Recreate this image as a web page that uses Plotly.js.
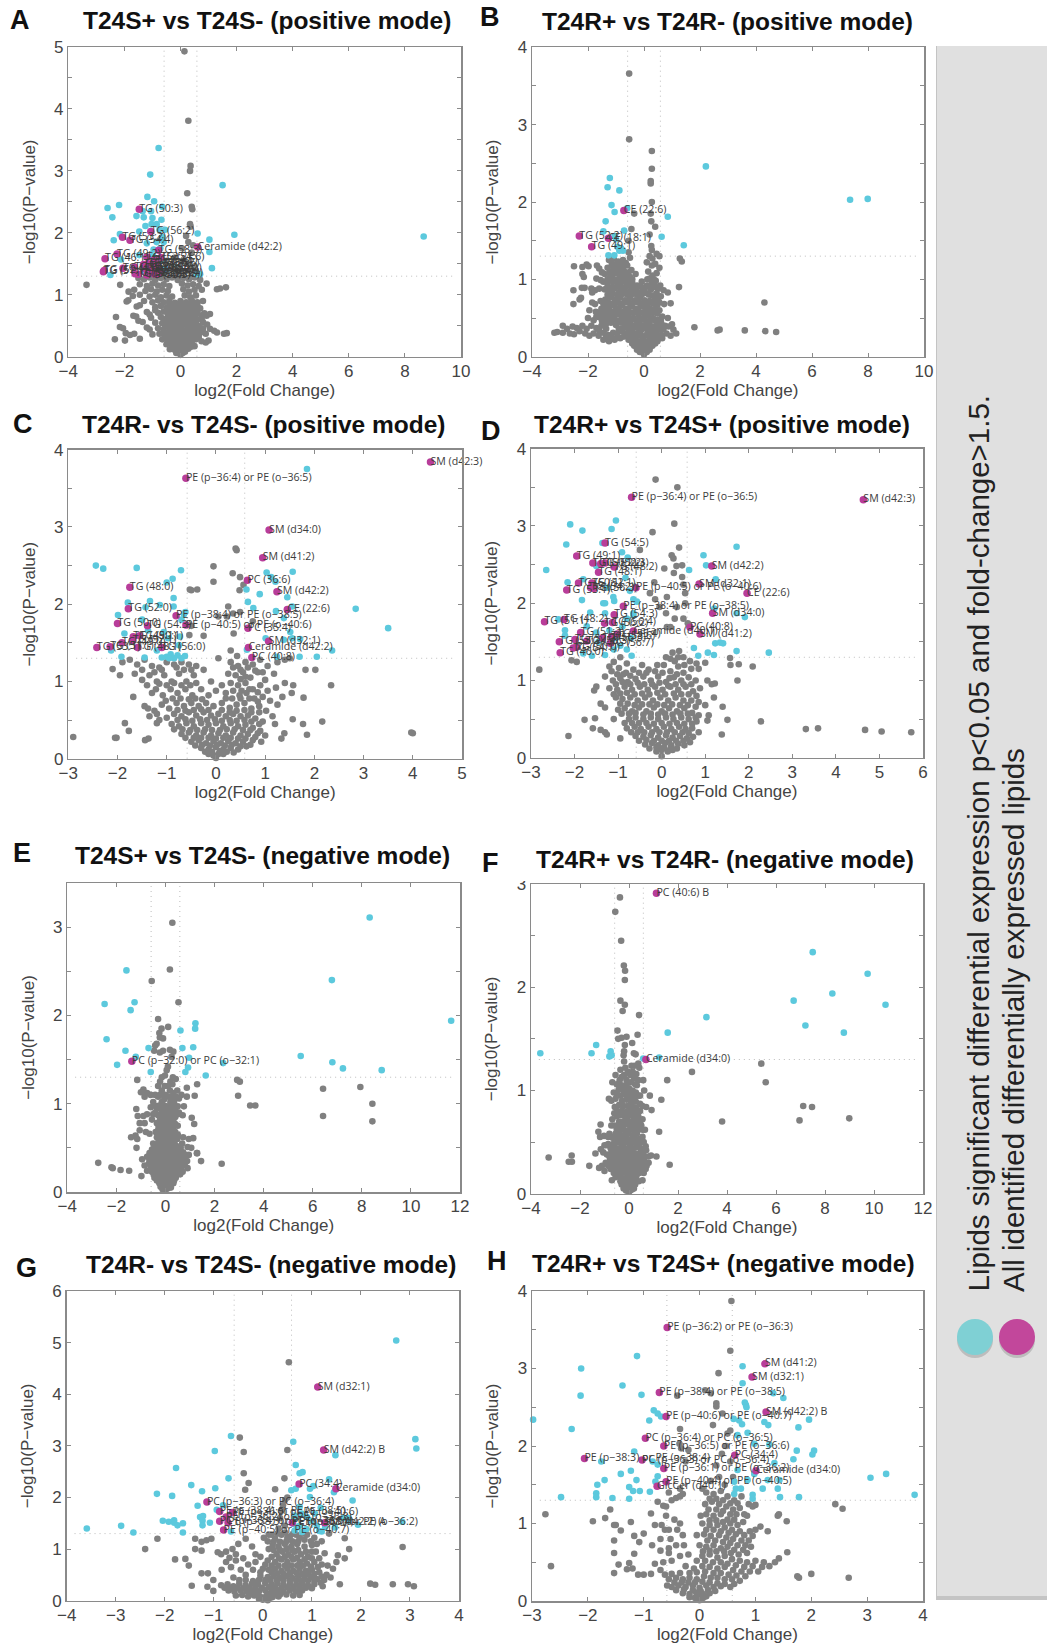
<!DOCTYPE html>
<html><head><meta charset="utf-8"><script src="https://cdn.plot.ly/plotly-3.0.1.min.js"></script>
<style>html,body{margin:0;padding:0;background:#fff}</style></head><body><div id="chart" style="width:1047px;height:1647px"></div>
<script>
const titles=["T24S+ vs T24S- (positive mode)","T24R+ vs T24R- (positive mode)","T24R- vs T24S- (positive mode)","T24R+ vs T24S+ (positive mode)","T24S+ vs T24S- (negative mode)","T24R+ vs T24R- (negative mode)","T24R- vs T24S- (negative mode)","T24R+ vs T24S+ (negative mode)"];
const letters=["A","B","C","D","E","F","G","H"];
const xTitle="log2(Fold Change)", yTitle="−log10(P−value)";
const note1="Lipids significant differential expression p<0.05 and fold-change>1.5.";
const note2="All identified differentially expressed lipids";

const grayA=[[.14,4.93],[.28,3.81],[.36,3.08],[.34,3],[.24,2.64],[.4,2.42],[.42,2.38],[.34,2.14],[.36,2.1],[.45,1.8],[.2,1.95],[.28,1.85],[.05,1.75],[.4,1.68],[-.5,1.55],[-.2,1.6],[.1,1.55],[.3,1.5],[.5,1.45],[-.35,1.42],[-.1,1.4],[.2,1.38],[-.6,1.35],[.4,1.33],[0,1.32],
[-3.35,1.16],[-1.5,1.27],[-1.3,1.25],[-1.1,1.28],[-.9,1.24],[-.7,1.27],[-.5,1.25],[-.3,1.28],[-.1,1.24],[.1,1.27],[.3,1.25],[.5,1.28],[.7,1.24],
[-2.15,1.16],[-1.45,1.17],[-1.2,1.14],[-1,1.18],[-.8,1.15],[-.6,1.17],[-.4,1.14],[.05,1.18],[.25,1.15],[.45,1.17],[.65,1.14],[.93,1.18],[1.41,1.1],[1.3,1.09],[1.62,1.12],
[-1.85,1.05],[-1.65,1.08],[-1.25,1.06],[-1.05,1.09],[-.85,1.05],[-.65,1.08],[-.45,1.06],[.1,1.09],[.3,1.05],[.5,1.08],[.76,1.08],
[-1.7,.98],[-1.45,1],[-1.1,.97],[-.9,1],[-.7,.96],[-.5,.99],[-.3,.97],[.15,.99],[.35,.96],[.55,.99],
[-1.92,.89],[-1.86,.91],[-1.3,.9],[-1,.88],[-.8,.91],[-.6,.88],[-.4,.9],[-.2,.87],[0,.9],[.2,.88],[.4,.91],[.6,.88],[.8,.9],
[-1.56,.81],[-1.45,.83],[-.9,.8],[-.7,.82],[-.5,.79],[-.3,.81],[-.1,.78],[.1,.82],[.3,.79],[.5,.81],[.7,.78],
[-1.2,.72],[-.8,.71],[-.6,.73],[-.4,.7],[-.2,.72],[0,.69],[.2,.73],[.4,.7],[.6,.72],[.85,.7],
[-2.3,.64],[-1.68,.66],[-1.58,.65],[-1.05,.63],[-.7,.64],[-.5,.61],[-.3,.65],[-.1,.62],[.1,.64],[.3,.61],[.5,.65],[.75,.62],[1.05,.69],[.93,.66],
[-1.35,.56],[-1.5,.58],[-.9,.55],[-.65,.54],[-.45,.57],[-.25,.53],[-.05,.56],[.15,.53],[.35,.57],[.55,.54],[.8,.56],[.95,.52],
[-2.16,.48],[-2.05,.46],[-1.2,.47],[-1.1,.44],[-.8,.46],[-.6,.44],[-.4,.47],[-.2,.44],[0,.46],[.2,.43],[.4,.47],[.6,.44],[.8,.46],[1.2,.42],[1.05,.45],
[-1.95,.38],[-1.8,.35],[-1.65,.37],[-1,.36],[-.75,.37],[-.55,.35],[-.35,.38],[-.15,.35],[.05,.37],[.25,.34],[.45,.38],[.65,.35],[.9,.37],[1.3,.39],[1.55,.37],[1.65,.38],
[-2.34,.28],[-1.98,.26],[-1.45,.29],[-.65,.28],[-.45,.26],[-.25,.29],[-.05,.26],[.15,.28],[.35,.25],[.55,.28],[.75,.25],[1,.26],[.9,.23],
[-.5,.2],[-.3,.18],[-.1,.2],[.1,.17],[.3,.2],[.5,.17],[-.38,.12],[-.2,.11],[-.05,.13],[.1,.11],[.28,.13],[-.15,.06],[0,.03],[.08,.06],[.16,.08]];
const fillA=[[-.55,.5],[-.35,.5],[-.15,.5],[.05,.5],[.25,.5],[.45,.5],[.65,.5],[-.6,.4],[-.4,.41],[-.2,.4],[0,.41],[.2,.39],[.4,.41],[.6,.4],[.8,.4],[-.55,.32],[-.35,.31],[-.15,.32],[.05,.31],[.25,.31],[.45,.32],[.65,.31],[-.4,.24],[-.2,.24],[0,.23],[.2,.24],[.4,.23],[-.2,.15],[0,.16],[.2,.16],[.38,.16],[-.6,.6],[-.4,.6],[-.2,.59],[0,.6],[.2,.59],[.4,.59],[.6,.6],[-.45,.68],[-.25,.68],[-.05,.67],[.15,.68],[.35,.67],[.55,.68],[.75,.67],[-.4,.76],[-.2,.76],[0,.76],[.2,.77],[.4,.76],[.6,.76],[-.9,.75],[-1.1,.68],[-.4,.85],[-.2,.84],[0,.84],[.2,.84],[.4,.85],[.6,.84]];
const cyanA=[[8.67,1.94],[1.92,1.97],[1.5,2.77],[1.03,1.89],[1.03,1.69],[1.12,1.43],[.61,1.99],[-.78,3.37],[-1.08,2.94],[-1.18,2.58],[-.94,2.51],[-.65,2.42],[-2.19,2.45],[-2.6,2.4],[-2.43,2.25],[-1.57,2.27],[-1.31,2.25],[-1,2.24],[-.68,2.21],[-.85,2.14],[-1.03,2.14],[-1.25,2.11],[-2.16,1.98],[-2.38,1.88],[-1.47,2.02],[-.65,1.93],[-1.2,1.83],[-.72,1.75],[-.96,1.73],[-.98,1.63],[-1.47,1.64],[-2.12,1.57],[-2.5,1.32],[.7,1.33],[.58,1.33],[-.75,2.05],[-.85,1.85],[-.7,1.55],[-.9,1.48],[-1,1.38],[-.72,1.42],[-.85,1.33],[-.55,1.4],[-1.15,1.45],[-1.25,1.35],[-.6,1.85],[-1.35,2.35],[-1.05,2.35],[-.55,2.05]];
const magA=[[-1.47,2.38,"TG (50:3)"],[-1.06,2.02,"TG (56:2)"],[-2.07,1.93,"TG (53:2)"],[-1.8,1.88,"TG (54:4)"],[-2.26,1.66,"TG (49:2)"],[-2.69,1.58,"TG (46:1)"],[-.78,1.72,"TG (58:3)"],[.61,1.77,"Ceramide (d42:2)"],[-2.75,1.37,"TG (51:1)"],[-2.72,1.39,"TG (52:1)"],[-2.05,1.43,"TG (48:1)"],[-1.64,1.45,"TG (50:1)"],[-1.2,1.61,"TG (52:2)"],[-1.32,1.49,"TG (54:3)"],[-1.62,1.34,"TG (52:3)"],[-1.5,1.33,"TG (50:2)"],[-1.2,1.32,"TG (55:3)"],[-.95,1.34,"TG (54:2)"],[-1.15,1.5,"TG (56:3)"],[-1.25,1.42,"TG (48:0)"],[-1.05,1.37,"TG (52:4)"],[-.88,1.5,"TG (56:5)"],[-.95,1.56,"TG (54:5)"],[-.8,1.42,"TG (55:2)"],[-1.1,1.46,"TG (53:3)"],[-.75,1.35,"TG (58:4)"],[-.85,1.33,"TG (52:5)"],[-.9,1.4,"TG (56:6)"],[-.7,1.6,"TG (54:6)"]];

const grayB=[[-.53,3.66],[-.53,2.81],[.28,2.66],[.28,2.43],[.24,2.27],[.24,2.24],[.28,2],[.24,1.85],[-.35,1.85],[.26,1.75],[.4,1.68],[-.45,1.65],[.2,1.58],[-.55,1.5],[.26,1.43],[.28,1.38],[1.28,1.27],[1.35,1.23],[1.25,.9],[4.3,.7],[1.8,.38],[2.63,.34],[2.7,.35],[3.6,.34],[4.33,.33],[4.72,.32],
[-.55,1.35],[-.5,1.28],[.2,1.3],[.3,1.27],[.55,1.3],[.45,1.33],[.1,1.22],[.28,1.18],[.4,1.2],[.55,1.15],[.15,1.1],[.3,1.05],[.45,1.08],[.12,1],[.28,.96],[.42,.98],
[-1.25,1.25],[-1.08,1.27],[-.92,1.23],[-.75,1.25],[-1.3,1.15],[-1.12,1.17],[-.95,1.13],[-.78,1.16],[-.6,1.18],[-.45,1.12],[-1.4,1.07],[-1.2,1.05],[-1.03,1.08],[-.85,1.05],[-.68,1.07],[-.5,1.03],[-.3,1.07],
[-2.5,1.17],[-2.2,1.16],[-2.05,1.19],[-1.98,1.17],[-2.2,1.07],[-2.15,1.03],[-1.68,1.18],[-1.6,1.14],[-1.5,1.09],[-1.7,1.01],[-1.55,.99],[-2.52,.86],[-2.22,.89],[-2.12,.89],[-1.88,.88],[-1.75,.86],[-1.6,.88],[-1.85,.83],[-1.45,.97],[-1.3,.95],[-1.12,.98],[-.95,.95],[-.78,.97],[-.6,.94],[-.42,.96],[-.25,.92],[-.08,.97],[.1,.92],[.25,.87],[.42,.9],[.58,.92],[.7,.86],[.85,.83],
[-1.4,.87],[-1.22,.85],[-1.05,.88],[-.88,.84],[-.7,.87],[-.52,.84],[-.35,.86],[-.18,.83],[0,.86],[.1,.82],[.3,.79],[.45,.82],[.6,.78],
[-2.3,.74],[-2.52,.68],[-2.25,.76],[-1.85,.7],[-1.75,.68],[-1.55,.72],[-1.38,.74],[-1.2,.77],[-1.03,.74],[-.85,.77],[-.68,.73],[-.5,.76],[-.32,.73],[-.15,.76],[.02,.73],[.2,.72],[.38,.73],[.55,.7],[.72,.68],[.95,.69],
[-1.95,.6],[-1.72,.58],[-1.52,.62],[-1.35,.64],[-1.18,.66],[-1,.63],[-.82,.66],[-.65,.62],[-.48,.65],[-.3,.62],[-.12,.65],[.05,.62],[.22,.62],[.4,.62],[.55,.6],[.65,.52],[.85,.5],
[-2,.5],[-1.8,.47],[-1.6,.51],[-1.42,.53],[-1.25,.55],[-1.08,.52],[-.9,.55],[-.72,.52],[-.55,.54],[-.38,.5],[-.2,.54],[-.03,.5],[.15,.53],[.32,.5],[.5,.48],[1,.42],[.75,.4],[.62,.43],
[-2.9,.4],[-2.75,.36],[-2.55,.39],[-2.4,.37],[-2.2,.4],[-2.05,.36],[-1.88,.4],[-1.7,.37],[-1.52,.4],[-1.35,.43],[-1.18,.44],[-1,.41],[-.82,.44],[-.65,.41],[-.48,.43],[-.32,.4],[-.15,.43],[.02,.4],[.2,.42],[.35,.39],[.52,.41],[.7,.36],[.88,.39],[1.05,.35],[1.15,.3],
[-3.2,.31],[-3.1,.32],[-2.9,.31],[-2.65,.3],[-2.5,.29],[-2.1,.3],[-1.95,.27],[-1.8,.3],[-1.62,.27],[-1.45,.31],[-1.28,.28],[-1.1,.31],[-.95,.3],[-.8,.33],[-.62,.3],[-.45,.32],[-.28,.3],[-.12,.33],[.12,.3],[.28,.3],[.45,.31],[.62,.28],[.8,.3],[.95,.27],
[-1.45,.22],[-1.25,.2],[-1.05,.22],[-.85,.24],[-.55,.22],[-.38,.23],[-.2,.2],[-.05,.23],[.12,.2],[.3,.22],[.48,.2],[.65,.24],[-.35,.14],[-.18,.12],[0,.14],[.15,.12],[.3,.14],[-.15,.06],[0,.03],[.1,.06]];
const fillB=[[-1.15,1.2],[-.98,1.2],[-.82,1.19],[-.65,1.21],[-1.22,1.1],[-1.05,1.11],[-.88,1.1],[-.72,1.11],[-.55,1.09],[-1.3,1],[-1.12,1.01],[-.95,1],[-.78,1.01],[-.6,1],[-.42,1],[.2,1.01],[.35,1],[-1.3,.91],[-1.13,.9],[-.96,.91],[-.8,.9],[-.62,.91],[-.45,.9],[-.28,.88],[-.1,.9],[.18,.9],[.35,.91],[.5,.88],[-1.3,.8],[-1.12,.81],[-.95,.8],[-.78,.81],[-.6,.8],[-.42,.81],[-.25,.8],[-.08,.8],[.18,.8],[.38,.79],[.52,.77],[-1.45,.68],[-1.28,.7],[-1.1,.69],[-.92,.7],[-.75,.69],[-.58,.7],[-.4,.69],[-.22,.7],[-.05,.69],[.12,.68],[.3,.69],[.47,.67],[-1.6,.57],[-1.42,.59],[-1.25,.6],[-1.08,.58],[-.9,.6],[-.72,.58],[-.55,.59],[-.38,.57],[-.2,.59],[-.03,.57],[.14,.58],[.3,.57],[.48,.56],[-1.7,.52],[-1.5,.46],[-1.32,.48],[-1.15,.49],[-.98,.47],[-.8,.49],[-.62,.47],[-.45,.48],[-.28,.47],[-.1,.48],[.07,.46],[.23,.47],[.42,.46],[.6,.47],[-.9,.36],[-.72,.37],[-.55,.36],[-.38,.37],[-.22,.37],[-.05,.36],[.1,.36],[.28,.36],[.45,.36],[.6,.35],[-1.35,.36],[-1.6,.34],[-2.3,.33],[-1.35,.26],[-1.15,.25],[-.95,.25],[-.72,.26],[-.5,.27],[-.3,.26],[-.12,.27],[.05,.27],[.22,.26],[.4,.26],[.55,.25],[-.42,.17],[-.25,.16],[-.1,.17],[.05,.17],[.22,.17],[.4,.17],[-.25,.09],[-.08,.09],[.08,.09],[.2,.09]];
const cyanB=[[2.21,2.46],[7.36,2.03],[7.99,2.04],[-1.22,2.31],[-1.3,2.19],[-.88,2.15],[-1.16,1.96],[-1.05,1.87],[-.6,1.92],[.85,1.81],[-1.37,1.75],[-.71,1.63],[-1.45,1.62],[.63,1.55],[1.42,1.44],[-1.27,1.31],[-1.06,1.31],[-.95,1.42],[-.82,1.4],[-.75,1.37],[-.88,1.37],[-1,1.52],[-1.05,1.56]];
const magB=[[-.72,1.89,"CE (22:6)"],[-2.31,1.56,"TG (52:2)"],[-1.27,1.53,"CE (18:1)"],[-1.87,1.42,"TG (49:1)"]];

const grayC=[[.4,2.72],[.42,2.7],[-.05,2.49],[-.05,2.29],[.34,2.4],[.49,2.35],[.56,2.25],[.48,2.18],[-.53,2.19],[-.5,2.18],[-.38,2.19],[.25,1.97],[.49,1.9],[.35,1.88],[.05,1.84],[.22,1.84],[-.54,1.6],[-.25,1.59],[.36,1.62],[.3,1.4],[.43,1.33],[.05,1.3],[.75,1.78],[-.5,1.72],
[1.82,1.15],[2.02,1.15],[2.34,.95],[-2.1,1.16],[-1.95,1.08],[-1.68,.8],[1.78,.79],[1.57,.95],[1.54,.85],[1.4,.98],[1.22,.92],[1.35,.8],[1.18,1.1],[1.25,1.25],[1.4,1.28],[1.5,1.3],
[1.56,.51],[1.77,.45],[2.16,.48],[1.85,.31],[3.97,.34],[4,.33],[-2.9,.28],[-2.05,.27],[-2.02,.27],[-1.85,.46],[-1.77,.36],[-1.44,.24],[-1.37,.26],[-1.2,.46],[-1.2,.58],[1.2,.45],[1.39,.33],[1.33,.26],[1.15,.55],[1.25,.7],[1.1,.75],
[-1.9,1.25],[-1.75,1.28],[-1.6,1.22],[-1.45,1.28],[-1.3,1.2],[-1.15,1.18],[-1,1.25],[-.85,1.22],[-.7,1.25],[-.55,1.22],[-.4,1.2],[-1.65,1.1],[-1.5,1.02],[-1.35,1.08],[-1.2,1],[-1.05,1.08],[-.9,1],[-.75,1.1],[-.6,1],[-.45,1.08],[-.25,1.15],[-.1,1],
[.3,1.25],[.45,1.2],[.6,1.25],[.75,1.22],[.9,1.28],[1.05,1.2],[.25,1.1],[.4,1.08],[.55,1.12],[.7,1.05],[.85,1.12],[1,1.02],[.3,.98],[.45,.95],[.6,.98],[.75,.9],[.9,.95],[1.05,.88],
[-1.4,.95],[-1.22,.9],[-1.08,.82],[-.92,.9],[-.78,.85],[-.62,.9],[-.48,.82],[-.3,.9],[-.15,.82],[0,.88],[.2,.85],[.33,.78],[.48,.82],[.62,.85],[.78,.78],[.95,.8],
[-1.45,.68],[-1.38,.65],[-1.25,.62],[-1.1,.7],[-.95,.65],[-.8,.72],[-.65,.68],[-.5,.72],[-.35,.68],[-.2,.72],[-.05,.68],[.12,.72],[.28,.66],[.42,.7],[.58,.72],[.72,.65],[.88,.68],[1.02,.62],
[-1.35,.55],[-1.15,.5],[-1,.53],[-.85,.58],[-.7,.55],[-.55,.6],[-.4,.56],[-.25,.6],[-.1,.56],[.05,.58],[.2,.55],[.35,.58],[.5,.55],[.65,.56],[.8,.52],[.95,.48],
[-.9,.45],[-.75,.42],[-.6,.46],[-.45,.42],[-.3,.46],[-.15,.44],[0,.46],[.15,.42],[.3,.46],[.45,.42],[.6,.44],[.75,.4],[.9,.36],[1,.3],
[-.7,.32],[-.55,.34],[-.4,.3],[-.25,.34],[-.1,.3],[.05,.33],[.2,.3],[.35,.34],[.5,.3],[.65,.32],[.8,.28],[.92,.22],
[-.5,.22],[-.35,.24],[-.2,.2],[-.05,.23],[.1,.2],[.25,.23],[.4,.2],[.55,.22],[.7,.18],[-.3,.14],[-.15,.12],[0,.15],[.15,.12],[.3,.14],[.45,.12],[-.15,.06],[-.05,.04],[.05,.06],[.15,.06],[0,.01]];
const fillC=[[-.85,.38],[-.68,.38],[-.52,.37],[-.38,.37],[-.22,.38],[-.08,.37],[.08,.37],[.22,.38],[.38,.38],[.55,.37],[.7,.37],[.85,.33],[-.78,.5],[-.62,.51],[-.48,.49],[-.32,.51],[-.18,.5],[-.02,.51],[.12,.49],[.28,.5],[.42,.49],[.58,.5],[.72,.48],[.88,.45],[-.62,.27],[-.45,.27],[-.3,.27],[-.15,.27],[0,.26],[.15,.27],[.3,.27],[.45,.26],[.6,.26],[.75,.24],[-.42,.17],[-.28,.18],[-.12,.17],[.02,.18],[.18,.17],[.32,.18],[.5,.16],[.62,.16],[-.22,.09],[-.08,.09],[.08,.1],[.22,.09],[.36,.08],[-.78,.63],[-.62,.62],[-.45,.63],[-.3,.64],[-.15,.63],[.12,.63],[.28,.6],[.42,.62],[.58,.63],[.72,.6],[.88,.6],[-1.02,.75],[-.88,.78],[-.72,.78],[-.55,.77],[-.42,.78],[-.28,.77],[.2,.78],[.5,.78],[.68,.78],[.85,.74],[-.85,.98],[-.7,.95],[-.52,.95],[-.4,.98],[.35,.88],[.52,.88],[.68,.9],[.85,.86],[-1.15,.97],[-1,.95],[-1.3,.85],[.12,.95],[-.8,1.18],[-.65,1.15],[-.5,1.15],[.35,1.18],[.5,1.15],[.65,1.18],[.8,1.14],[-1.5,1.15],[-1.25,1.12],[-1.1,1.15],[.95,1.12],[.6,1.06],[.5,1.03]];
const cyanC=[[1.85,3.75],[-2.44,2.5],[-2.29,2.46],[-1.61,2.47],[-.71,2.44],[-.88,2.33],[-1,2.28],[1.03,2.41],[1.56,2.42],[1.12,2.35],[1.21,2.29],[.62,2.19],[.89,2.13],[1.45,2.09],[2.84,1.94],[3.5,1.69],[-1.79,2.02],[-1.34,2.04],[-.86,2.08],[-1.14,1.99],[-1.43,1.96],[-.86,1.97],[.65,2.03],[.76,1.95],[1.22,1.91],[1.55,1.97],[-1.99,1.86],[-1.5,1.8],[-1.86,1.62],[-1.38,1.66],[-1.06,1.64],[-.73,1.58],[-.97,1.56],[1.01,1.56],[1.51,1.64],[1.38,1.82],[1.38,1.54],[1.71,1.55],[1.55,1.56],[2.36,1.4],[2.05,1.32],[1.7,1.32],[1.24,1.32],[.63,1.41],[-2.13,1.4],[-1.92,1.32],[-1.45,1.31],[-1,1.32],[-.92,1.35],[-.85,1.3],[-.78,1.34],[-.7,1.3],[-.63,1.33],[-.95,1.3],[-1.2,1.4],[-1.1,1.31],[-.75,1.47],[-.7,1.8],[-.65,1.87],[-.62,1.9]];
const magC=[[4.36,3.84,"SM (d42:3)"],[-.61,3.63,"PE (p−36:4) or PE (o−36:5)"],[1.08,2.96,"SM (d34:0)"],[.95,2.6,"SM (d41:2)"],[.64,2.31,"PC (36:6)"],[1.24,2.16,"SM (d42:2)"],[-1.75,2.22,"TG (48:0)"],[-1.78,1.94,"TG (52:0)"],[1.45,1.93,"CE (22:6)"],[-.81,1.85,"PE (p−38:4) or PE (o−38:5)"],[-2,1.75,"TG (50:0)"],[-1.39,1.72,"TG (54:3)"],[-.61,1.73,"PE (p−40:5) or PE (o−40:6)"],[.65,1.69,"PC (35:4)"],[1.07,1.52,"SM (d32:1)"],[.66,1.44,"Ceramide (d42:2)"],[.73,1.31,"PC (40:8)"],[-2.42,1.44,"TG (53:1)"],[-2.15,1.45,"TG (51:1)"],[-1.91,1.5,"TG (49:0)"],[-1.68,1.58,"TG (49:1)"],[-1.69,1.53,"TG (52:1)"],[-1.55,1.59,"TG (50:1)"],[-1.59,1.44,"TG (48:1)"],[-1.1,1.44,"TG (56:0)"]];

const grayD=[[-.14,3.6],[.36,3.5],[.29,3.03],[-.21,2.92],[.4,2.72],[-.5,2.69],[.23,2.62],[.27,2.58],[.06,2.45],[.34,2.48],[.47,2.49],[.28,2.39],[.47,2.34],[-.17,2.27],[.5,2.24],[-.27,2.13],[.12,2.08],[.54,2.13],[.54,2],[.3,1.8],[.5,1.8],[.12,1.69],[.2,1.69],[-.05,1.95],[-.15,2.05],[.1,1.87],[.35,1.95],[.6,1.74],
[-2.81,1.14],[-2.07,1.26],[-1.95,1.24],[1.57,1.29],[1.58,1.2],[1.77,1.21],[2.09,1.18],[1.74,1],[3.31,.37],[3.59,.38],[4.67,.36],[5.05,.34],[5.73,.33],[2.28,.47],[-2.14,.28],[-1.77,.49],[-1.53,.51],[1.38,.3],[1.51,.49],[-1.4,.36],[-1.3,.33],[-1.26,.3],[-1.58,.38],[1.2,.78],[1.4,.66],[1.05,1],[1.15,.95],[1.22,.96],[.8,1.22],[1,1.23],[.85,1.15],[.78,1],
[-1.1,1.24],[-.95,1.3],[-.8,1.22],[-1.15,1.12],[-.98,1.16],[-.82,1.1],[-.65,1.14],[-.45,1.2],[-.3,1.14],[-.1,1.2],[.1,1.3],[.25,1.36],[.3,1.25],[.4,1.38],[.5,1.3],[.05,1.2],[.2,1.12],[.38,1.18],[.52,1.2],[.68,1.15],
[-1.3,1.05],[-1.12,1],[-.95,1.03],[-.78,.98],[-.6,1.02],[-.42,1.05],[-.25,1],[-.08,1.05],[.1,.98],[.28,1.04],[.45,1],[.62,1.04],[-1.2,.9],[-1.02,.88],[-.85,.92],[-.68,.88],[-.5,.92],[-.32,.88],[-.15,.92],[.02,.88],[.2,.92],[.38,.88],[.55,.92],[.72,.86],[.88,.9],
[-1.5,.92],[-1.55,.87],[-1.4,.7],[-1.3,.65],[-1.05,.78],[-.9,.76],[-.72,.78],[-.55,.74],[-.38,.78],[-.2,.74],[-.03,.78],[.15,.74],[.32,.78],[.5,.74],[.68,.74],[.85,.72],[1,.68],
[-1,.62],[-.85,.64],[-.68,.6],[-.52,.65],[-.35,.6],[-.18,.65],[0,.6],[.17,.64],[.35,.6],[.52,.64],[.7,.58],[.85,.55],[1.08,.55],
[-1.1,.5],[-.75,.5],[-.6,.52],[-.42,.5],[-.25,.52],[-.08,.5],[.1,.52],[.27,.5],[.45,.52],[.62,.5],[.8,.47],[1.05,.48],
[-.8,.38],[-.62,.4],[-.48,.37],[-.3,.4],[-.12,.37],[.05,.4],[.22,.37],[.4,.4],[.55,.37],[.7,.38],[.85,.33],
[-.95,.25],[-.6,.28],[-.42,.27],[-.25,.29],[-.08,.26],[.1,.29],[.25,.26],[.42,.28],[.58,.25],[.72,.27],[-.38,.17],[-.22,.19],[-.08,.16],[.08,.19],[.22,.16],[.38,.18],[.52,.16],[-.12,.08],[0,.1],[.14,.08],[.25,.1],[0,.02]];
const fillD=[[-.7,.33],[-.55,.33],[-.4,.33],[-.22,.33],[-.05,.33],[.12,.33],[.3,.33],[.48,.33],[.62,.32],[-.52,.22],[-.35,.23],[-.18,.22],[0,.22],[.17,.22],[.33,.22],[.5,.22],[.65,.2],[-.28,.12],[-.12,.13],[.05,.13],[.2,.12],[.35,.12],[-.85,.45],[-.68,.45],[-.52,.45],[-.35,.45],[-.18,.44],[0,.45],[.18,.44],[.35,.45],[.52,.44],[.7,.44],[-.92,.57],[-.75,.57],[-.6,.58],[-.42,.56],[-.25,.57],[-.08,.56],[.08,.57],[.25,.56],[.43,.57],[.6,.57],[.78,.52],[-.95,.7],[-.78,.7],[-.62,.68],[-.45,.69],[-.28,.69],[-.1,.69],[.06,.68],[.24,.69],[.42,.68],[.6,.68],[.78,.66],[-1.1,.82],[-.95,.83],[-.8,.84],[-.62,.82],[-.45,.83],[-.28,.82],[-.1,.84],[.08,.82],[.28,.83],[.45,.82],[.62,.82],[.8,.8],[-1.05,.95],[-.9,.98],[-.72,.95],[-.55,.97],[-.4,.95],[-.22,.95],[-.05,.97],[.15,.93],[.32,.95],[.5,.95],[.68,.95],[-1.2,1.18],[-1.02,1.08],[-.88,1.08],[-.72,1.06],[-.52,1.1],[-.35,1.1],[-.15,1.12],[.02,1.1],[.18,1.03],[.35,1.08],[.5,1.1],[.65,1.25],[.2,1.28],[.38,1.3]];
const cyanD=[[-1.05,3.07],[-2.1,3.02],[-1.82,2.94],[-1.15,2.96],[-2.19,2.76],[-1.36,2.78],[-.91,2.66],[-.78,2.59],[-2.65,2.43],[1.72,2.73],[.96,2.62],[1.02,2.49],[.63,2.43],[1.24,2.31],[-2.16,2.27],[-1.8,2.31],[-.83,2.33],[-1.5,2.48],[-1.83,2.04],[-1.34,2],[-1.3,2],[-1.11,2.08],[-1.09,2.03],[-.73,2.16],[-.65,2.05],[-.57,2.02],[-1.64,1.88],[-1.3,1.87],[-.65,1.84],[-2.37,1.79],[-2.22,1.65],[-2.22,1.58],[-1.72,1.7],[1.23,1.48],[1.34,1.49],[1.41,1.48],[1.72,1.38],[2.46,1.36],[.74,1.42],[.84,1.32],[1.06,1.36],[1.2,1.33],[1.91,1.82],[1.72,1.87],[1.21,1.93],[-.69,1.32],[-.8,1.4],[-1.6,1.32],[-1.8,1.35],[-1.3,1.33],[-1.1,1.4],[-.95,1.45],[-.7,1.55],[-.65,1.87],[-1.45,1.5],[-1.2,1.65],[-.9,1.7],[-1.5,1.62],[-1.05,1.55],[-.8,1.8],[-1.25,2.2]];
const magD=[[4.63,3.34,"SM (d42:3)"],[-.69,3.37,"PE (p−36:4) or PE (o−36:5)"],[-1.3,2.78,"TG (54:5)"],[-1.95,2.61,"TG (49:1)"],[-1.58,2.52,"TG (50:2)"],[-1.4,2.51,"TG (51:2)"],[-1.3,2.52,"TG (52:3)"],[-1.09,2.47,"TG (48:2)"],[-1.45,2.4,"TG (48:1)"],[1.15,2.48,"SM (d42:2)"],[.86,2.25,"SM (d32:1)"],[1.96,2.13,"CE (22:6)"],[-1.91,2.26,"TG (50:1)"],[-1.6,2.26,"TG (52:1)"],[-1.63,2.2,"TG (54:2)"],[-1.56,2.19,"TG (56:3)"],[-2.18,2.17,"TG (53:1)"],[-.59,2.2,"PE (p−40:5) or PE (o−40:6)"],[-.88,1.96,"PE (p−38:4) or PE (o−38:5)"],[1.17,1.87,"SM (d34:0)"],[-1.09,1.85,"TG (54:3)"],[-2.24,1.79,"TG (48:2)"],[-2.69,1.76,"TG (51:1)"],[-1.31,1.74,"TG (56:2)"],[-1.13,1.75,"TG (56:4)"],[.65,1.69,"PC (40:8)"],[-.65,1.64,"Ceramide (d40:1)"],[.88,1.6,"SM (d41:2)"],[-1.86,1.62,"TG (51:2)"],[-1.99,1.53,"TG (52:2)"],[-1.72,1.51,"TG (53:3)"],[-1.36,1.55,"TG (55:3)"],[-1.15,1.57,"TG (58:6)"],[-1.02,1.6,"TG (55:4)"],[-1.18,1.48,"TG (56:7)"],[-2.35,1.5,"TG (53:2)"],[-2.03,1.42,"TG (54:1)"],[-1.96,1.43,"TG (50:0)"],[-2.33,1.36,"TG (46:0)"]];

const grayE=[[.28,3.05],[.18,2.52],[-.56,2.39],[.53,2.15],[-.3,1.96],[.11,1.87],[-.16,1.85],[-.25,1.8],[-.23,1.75],[-.1,1.74],[-.36,1.68],[-.42,1.66],[-.46,1.6],[-.23,1.58],[-.1,1.6],[.18,1.61],[.32,1.59],[.25,1.53],[.1,1.42],[.05,1.38],[-.02,1.32],[-.15,1.3],[.3,1.3],[.2,1.25],[.42,1.28],
[2.92,1.27],[3.03,1.25],[2.96,1.09],[3.45,.98],[3.66,.98],[6.42,1.17],[6.42,.86],[7.94,1.19],[8.43,1],[8.43,.8],[1.29,1.22],[1.19,1.09],[-1.15,1.27],[-2.74,.33],[-2.2,.28],[-2.15,.27],[-1.83,.25],[-1.48,.24],[-.98,.18],[2.29,.32],[1.45,.35],[1.29,.44],
[-.9,1.16],[-.75,1.12],[-.6,1.1],[-.3,1.2],[-.15,1.15],[-.03,1.2],[.18,1.15],[.32,1.12],[.48,1.15],[.65,1.1],[.87,1.18],[.87,1.08],[.55,1.06],[-1,1.13],[-.85,1.08],
[-.5,1.02],[-.3,1.08],[-.15,1.02],[0,1.1],[.2,1.02],[.35,1.02],[.5,.97],[-.6,.96],[-.35,.95],[-.15,.93],[.05,.93],[.22,.93],[.4,.93],[.75,.97],[-1.19,.94],[-1.13,.86],[-.9,.86],[-.75,.88],[-.5,.88],[-.3,.87],[-.12,.85],[.05,.83],[.25,.85],[.4,.85],[.7,.87],[1.07,.84],[1.17,.77],[-1.05,.78],[-.85,.78],[-.35,.78],[-.12,.77],[.08,.76],[.25,.77],[.4,.77],
[-1.4,.62],[-1.22,.64],[-1.05,.7],[-.8,.68],[-.65,.66],[-.3,.7],[-.12,.7],[.05,.69],[.22,.7],[.4,.68],[-1.15,.6],[-.35,.62],[-.15,.61],[.02,.61],[.2,.62],[.38,.62],[.72,.62],[.95,.6],[1.13,.61],[.68,.55],[-1.18,.5],[-.5,.55],[-.32,.54],[-.14,.53],[.03,.54],[.2,.54],[.38,.54],[.9,.51],[1.05,.5],
[-.55,.48],[-.38,.46],[-.2,.47],[-.02,.46],[.15,.47],[.32,.45],[.5,.47],[.72,.45],[.95,.42],[1.28,.44],[-.95,.37],[-.75,.4],[-.55,.39],[-.38,.4],[-.2,.38],[-.02,.4],[.15,.38],[.32,.4],[.5,.38],[.7,.38],[.88,.35],
[-.85,.3],[-.68,.32],[-.5,.3],[-.32,.32],[-.15,.3],[.02,.32],[.2,.3],[.38,.32],[.55,.3],[.72,.3],[.9,.27],[-.75,.24],[-.55,.23],[-.38,.25],[-.2,.22],[-.02,.24],[.15,.22],[.32,.24],[.5,.22],[.7,.23],[-.45,.16],[-.28,.17],[-.1,.15],[.08,.17],[.25,.15],[.42,.16],[-.25,.1],[-.1,.08],[.05,.1],[.2,.08],[.32,.1],[-.12,.03],[0,.02],[.08,.04]];
const fillE=[[-.22,1.25],[.1,1.2],[.28,1.22],[-.42,1.1],[-.22,1.1],[-.05,1.05],[.12,1.08],[.42,1.08],[.28,1.07],[-.45,.98],[-.25,.98],[-.05,.98],[.12,.97],[.3,.97],[.55,.9],[-.42,.9],[-.22,.88],[-.02,.88],[.15,.88],[.32,.88],[.5,.88],[-.22,.82],[-.05,.8],[.15,.81],[.32,.81],[-.55,.82],[-.28,.74],[-.05,.73],[.15,.73],[.32,.72],[.5,.75],[-.22,.65],[-.05,.65],[.12,.65],[.3,.66],[.5,.65],[-.4,.68],[-.28,.58],[-.08,.57],[.1,.57],[.28,.58],[.48,.6],[-.45,.52],[-.25,.5],[-.08,.5],[.1,.5],[.28,.5],[.45,.52],[.62,.5],[-.65,.44],[-.45,.43],[-.28,.43],[-.1,.43],[.07,.43],[.25,.42],[.42,.43],[.6,.42],[.82,.42],[-.65,.36],[-.45,.35],[-.28,.36],[-.1,.35],[.07,.35],[.25,.35],[.42,.36],[.6,.34],[.8,.33],[-.6,.27],[-.42,.28],[-.25,.27],[-.08,.28],[.1,.27],[.28,.28],[.45,.27],[.62,.27],[-.48,.2],[-.3,.2],[-.12,.19],[.05,.2],[.22,.19],[.4,.2],[.6,.2],[-.35,.13],[-.18,.12],[0,.13],[.18,.12],[.35,.13],[-.2,.06],[-.05,.06],[.1,.07],[.22,.05]];
const cyanE=[[8.32,3.11],[6.78,2.4],[-1.59,2.51],[-2.48,2.13],[-1.26,2.15],[-1.42,2.06],[11.64,1.94],[1.22,1.91],[1.21,1.85],[.61,1.83],[-2.4,1.73],[-.69,1.63],[.69,1.63],[1.13,1.64],[-1.63,1.6],[-1.21,1.53],[.96,1.52],[-1.97,1.44],[5.51,1.54],[6.8,1.47],[2.35,1.46],[7.23,1.4],[8.81,1.38],[.92,1.41],[-.6,1.36],[.81,1.36],[1.64,1.32]];
const magE=[[-1.37,1.48,"PC (p−32:0) or PC (o−32:1)"]];

const grayF=[[-.37,2.87],[-.56,2.73],[-.32,2.45],[-.21,2.21],[-.16,2.16],[-.17,2.07],[-.35,1.87],[-.17,1.83],[-.26,1.77],[.41,1.73],[-.47,1.58],[.35,1.54],[-.44,1.5],[-.3,1.51],[-.1,1.52],[.13,1.46],[-.17,1.44],[-.2,1.38],[-.22,1.34],[.2,1.36],[.27,1.35],[-.2,1.28],[-.15,1.22],[.1,1.24],[.22,1.24],[.38,1.26],[.42,1.22],
[5.4,1.26],[5.58,1.08],[2.57,1.18],[1.56,1.1],[1.32,.91],[.85,.95],[.92,.81],[7.11,.85],[7.47,.84],[6.96,.71],[8.99,.73],[3.8,.7],[1.23,.6],[1.66,.28],[1.12,.36],[-3.28,.35],[-2.34,.37],[-2.33,.31],[-2.46,.31],[-1.62,.27],[-1.37,.39],[-1.16,.67],[-1.25,.6],[-1.18,.55],[-1.02,.56],[-.8,.58],[.58,1.1],[.62,1],[.38,1.1],
[-.35,1.2],[-.2,1.15],[-.38,1.1],[-.55,1.15],[-.68,1.08],[-.5,1.06],[-.3,1.05],[.05,1.15],[.2,1.12],[.32,1.05],[.15,1],[0,1.02],[-.12,1.05],[-.62,.98],[-.82,.92],[-.72,.9],[-.5,.97],[-.35,.95],[-.18,.96],[.02,.93],[.2,.92],[.36,.95],[.55,.85],[.7,.84],
[-.58,.84],[-.4,.86],[-.22,.85],[-.05,.85],[.12,.85],[.3,.83],[.45,.8],[-.68,.72],[-.5,.75],[-.32,.76],[-.15,.74],[.02,.76],[.2,.74],[.38,.75],[.55,.72],[-.6,.66],[-.42,.67],[-.25,.65],[-.08,.67],[.1,.65],[.28,.66],[.5,.66],[.65,.62],
[-.75,.55],[-.55,.58],[-.38,.58],[-.2,.56],[-.03,.58],[.15,.56],[.32,.58],[.55,.55],[-1,.47],[-.85,.48],[-.65,.48],[-.48,.5],[-.3,.48],[-.12,.5],[.05,.48],[.22,.5],[.4,.48],[.6,.5],
[-1.15,.43],[-1.05,.4],[-.9,.38],[-.72,.4],[-.55,.41],[-.38,.39],[-.2,.41],[-.02,.39],[.15,.41],[.32,.39],[.5,.41],[.7,.42],[.9,.37],[-.95,.3],[-.78,.32],[-.6,.33],[-.42,.31],[-.25,.33],[-.08,.31],[.1,.33],[.28,.31],[.45,.33],[.62,.32],[.8,.3],[-1.22,.25],[-1.1,.27],[-1,.22],[-.75,.24],[-.55,.25],[-.38,.24],[-.2,.25],[-.03,.23],[.15,.25],[.32,.23],[.48,.24],[.68,.24],
[-.7,.13],[-.55,.16],[-.38,.17],[-.2,.15],[-.03,.17],[.12,.15],[.3,.17],[.55,.13],[-.3,.09],[-.15,.07],[0,.09],[.15,.07],[.25,.09],[-.12,.03],[0,.02],[.05,.03]];
const fillF=[[-.05,1.18],[.15,1.18],[.3,1.16],[-.3,1.13],[-.1,1.1],[.08,1.08],[.25,1.06],[-.42,1.01],[-.22,1],[-.05,.98],[.12,.96],[.28,.98],[.45,.95],[-.55,.92],[-.28,.9],[-.1,.91],[.08,.89],[.28,.89],[.45,.87],[-.48,.8],[-.3,.8],[-.12,.79],[.05,.8],[.22,.79],[.38,.8],[-.6,.78],[-.4,.7],[-.22,.7],[-.05,.71],[.12,.7],[.28,.7],[.45,.7],[-.72,.66],[-.5,.62],[-.32,.62],[-.15,.61],[.02,.62],[.2,.61],[.38,.62],[.55,.62],[-.85,.55],[-.65,.54],[-.45,.54],[-.28,.53],[-.1,.54],[.07,.52],[.25,.53],[.42,.53],[-.92,.47],[-.75,.44],[-.58,.45],[-.4,.44],[-.22,.45],[-.05,.44],[.12,.44],[.28,.45],[.48,.44],[.68,.46],[-.8,.36],[-.62,.37],[-.45,.36],[-.28,.37],[-.1,.36],[.08,.37],[.25,.36],[.42,.37],[.6,.37],[.8,.36],[-.85,.27],[-.68,.28],[-.5,.28],[-.32,.28],[-.15,.28],[.02,.28],[.2,.28],[.38,.28],[.55,.28],[.72,.27],[-.62,.2],[-.45,.21],[-.28,.2],[-.1,.2],[.08,.2],[.25,.2],[.42,.2],[.6,.2],[-.35,.12],[-.2,.12],[-.05,.12],[.1,.12],[.25,.12],[.4,.12],[-.22,.05],[-.05,.05],[.12,.04],[.2,.05]];
const cyanF=[[7.5,2.34],[9.74,2.13],[8.3,1.94],[6.72,1.87],[10.47,1.83],[3.16,1.71],[7.2,1.63],[1.58,1.56],[8.77,1.56],[-1.34,1.44],[-3.62,1.36],[-1.53,1.36],[-.75,1.38],[-.8,1.33],[-.71,1.34],[.58,1.31],[1.23,1.32]];
const magF=[[1.12,2.91,"PC (40:6) B"],[.69,1.3,"Ceramide (d34:0)"]];

const grayG=[[.53,4.62],[-.47,3.16],[-.39,2.88],[.5,2.92],[-.39,2.47],[-.29,2.28],[-.36,2.15],[.44,2.37],[.25,2.16],[.5,2],[.45,1.95],[.41,1.85],[.38,1.75],[.35,1.6],[.45,1.45],[.32,1.4],
[2.85,1.04],[-2.4,1],[-2.15,1.2],[-1.79,.8],[-1.58,.81],[-1.51,.68],[-1.45,.29],[-1.13,.27],[-1.01,.19],[-1.25,.53],[-1.12,.53],[-.84,.6],[-1.01,.4],[2.19,.33],[2.29,.31],[2.65,.32],[2.96,.32],[3.08,.28],[1.57,.32],[1.67,1.21],[1.76,1],[1.67,.82],[1.53,.88],[1.5,.75],[1.43,.62],[1.26,.92],[1.35,1.3],[1.2,1.15],
[-1.38,1.2],[-1.25,1.14],[-1.15,1.17],[-1.05,1.2],[-1.38,1],[-1.25,.97],[-.92,.94],[-.85,.9],[-.75,.75],[-.68,.83],[-.55,.78],[-.62,1],[-.5,1.1],[-.35,1.2],[-.22,1.05],[-.15,.9],[-.45,.6],[-.3,.7],[-.15,.75],[-.6,.45],[-.35,.5],[-.2,.6],
[.12,1.28],[.25,1.2],[.38,1.28],[.5,1.22],[.62,1.3],[.75,1.22],[.9,1.28],[1.05,1.22],[.2,1.08],[.32,1.05],[.45,1.1],[.58,1.05],[.7,1.1],[.85,1.05],[1,1.08],[.28,.9],[.4,.95],[.52,.9],[.65,.95],[.78,.9],[.92,.85],[1.08,.95],[.1,.78],[.25,.75],[.38,.8],[.5,.75],[.62,.8],[.75,.75],[.9,.72],[1.05,.75],[1.2,.7],[1.32,.68],
[0,.62],[.12,.6],[.25,.62],[.38,.58],[.5,.62],[.62,.58],[.75,.62],[.88,.58],[1,.6],[1.15,.55],[1.3,.5],[-.05,.48],[.1,.46],[.22,.48],[.35,.44],[.48,.48],[.6,.44],[.72,.48],[.85,.44],[.98,.46],[1.1,.42],[1.25,.4],[1.38,.45],
[-.85,.3],[-.72,.32],[-.6,.28],[-.48,.33],[-.35,.3],[-.22,.33],[-.1,.32],[.05,.34],[.18,.32],[.3,.34],[.42,.31],[.55,.33],[.68,.31],[.8,.33],[.92,.3],[1.05,.32],[1.22,.28],
[-.7,.2],[-.58,.18],[-.45,.2],[-.32,.18],[-.2,.2],[-.08,.18],[.05,.2],[.18,.18],[.3,.2],[.42,.18],[.55,.2],[.68,.18],[.8,.2],[-.3,.08],[-.18,.1],[-.05,.07],[.08,.1],[.2,.07],[.32,.08],[.1,.01],[0,.02],[-.08,.04]];
const fillG=[[-.78,.25],[-.65,.24],[-.52,.25],[-.4,.24],[-.28,.25],[-.15,.25],[-.02,.25],[.12,.26],[.25,.25],[.38,.25],[.5,.26],[.62,.25],[.75,.25],[.88,.25],[1,.24],[-.55,.1],[-.42,.11],[.35,.12],[.48,.12],[.62,.1],[.75,.11],[.12,.13],[-.1,.13],[-.25,.14],[.25,.13],[.02,.06],[.14,.05],[-.2,.38],[-.08,.4],[.05,.4],[.15,.4],[.28,.4],[.42,.4],[.55,.39],[.68,.39],[.8,.39],[.92,.39],[1.05,.38],[1.18,.35],[-.48,.4],[-.35,.4],[.18,.55],[.3,.52],[.42,.52],[.55,.52],[.68,.54],[.8,.52],[.92,.52],[1.05,.52],[1.2,.47],[-.05,.55],[.05,.7],[.18,.68],[.32,.68],[.45,.68],[.58,.68],[.7,.68],[.82,.68],[.98,.66],[1.12,.65],[.18,.85],[.33,.82],[.45,.85],[.58,.85],[.7,.83],[.85,.8],[1,.82],[1.15,.82],[.22,.98],[.35,.98],[.48,1],[.6,.98],[.72,.98],[.88,.95],[1,.95],[.12,1],[.1,1.15],[.22,1.14],[.35,1.14],[.48,1.15],[.6,1.15],[.72,1.15],[.85,1.18],[.98,1.15],[.18,1.28],[.3,1.3],[.45,1.32],[.55,1.25],[.68,1.28],[.82,1.3],[.02,1.22],[1.1,1.1],[-.65,.65],[-.55,.9],[-.75,.95],[-.4,.82],[-.05,.85]];
const cyanG=[[2.72,5.04],[3.11,3.13],[3.13,2.95],[1.48,2.82],[-.65,3.19],[.62,3.08],[-.98,2.9],[.67,2.63],[-1.77,2.57],[.75,2.47],[.81,2.49],[-.7,2.37],[-1.46,2.24],[-.97,2.18],[-1.24,2.12],[-2.16,2.07],[-1.85,2.03],[1.35,2.35],[1.03,2.22],[.96,2.17],[1.45,2.1],[.67,2.17],[.58,2.14],[.96,2.01],[1.83,1.94],[-1.33,1.84],[1.18,1.8],[2.84,1.53],[-3.59,1.4],[-2.89,1.45],[-2.64,1.32],[-2.04,1.55],[-1.92,1.53],[-1.81,1.56],[-1.81,1.51],[-1.74,1.46],[-1.63,1.5],[-1.63,1.32],[-1.28,1.62],[-1.22,1.64],[-1.23,1.55],[-1.23,1.46],[-1.08,1.51],[-.94,1.76],[-.81,1.85],[-.65,1.34],[1.94,1.47],[1.75,1.6],[1.76,1.55],[.75,1.82],[.79,1.69],[.65,1.65],[.65,1.58],[.62,1.49],[.65,1.36],[.75,1.45],[.89,1.39],[.99,1.55],[1.06,1.69],[1.2,1.34],[1.27,1.43],[1.47,1.42],[1.64,1.6],[.7,1.42],[.8,1.33],[.9,1.62],[1.1,1.45],[1.15,1.35]];
const magG=[[1.12,4.14,"SM (d32:1)"],[1.24,2.92,"SM (d42:2) B"],[.74,2.26,"PC (34:4)"],[1.49,2.17,"Ceramide (d34:0)"],[-1.14,1.91,"PC (p−36:3) or PC (o−36:4)"],[-.88,1.73,"PE (p−38:4) or PE (o−38:5)"],[-.62,1.71,"PE (p−36:5) or PE (o−40:6)"],[-.75,1.62,"PE (p−36:2) or PE (o−36:3)"],[-.88,1.54,"PC (p−36:4) or PC (o−36:5)"],[-.71,1.51,"PE (p−38:3) or PE (o−38:4)"],[.6,1.51,"PE (p−36:1) or PE (o−36:2)"],[1.26,1.51,"SM (d42:2) A"],[-.8,1.37,"PE (p−40:5) or PE (o−40:7)"]];

const grayH=[[.57,3.87],[.55,3.23],[.34,2.94],[.3,2.55],[.3,2.51],[.41,2.42],[.24,2.27],[-.35,2.22],[.55,2.2],[.5,2.16],[-.36,2.03],[-.33,1.97],[.47,2],[.4,1.9],[.55,1.8],[-.4,2.65],[.1,2.72],[.2,2.68],[-.2,1.95],[-.25,1.8],[.3,1.75],[.35,1.6],[.45,1.5],[.2,1.55],[.6,1.6],[.05,1.45],[-.3,1.38],[-.42,1.33],[-.35,1.45],
[2.43,1.25],[2.56,1.19],[-2.76,1.12],[-2.66,.45],[-1.91,1.03],[-1.69,1.07],[-1.6,1.18],[-1.5,.98],[-1.53,.98],[-1.23,1.02],[-1.41,.91],[-1.53,.78],[-1.17,.84],[-1,.87],[-1.08,.76],[-.87,1.13],[-1.53,.62],[-1.17,.61],[-1.45,.47],[-1.53,.36],[-1.3,.41],[-1.26,.49],[-1.2,.42],[-1.1,.34],[-1,.34],[-.87,.35],[2,.35],[1.75,.32],[1.78,.3],[2.67,.3],[1.57,.63],[1.42,1.12],[1.4,1.1],[1.56,1.03],[1.09,.96],[1.22,.9],[1,1.24],[.95,1.22],
[-.75,1.28],[-.65,1.23],[-.5,1.3],[-.6,1.1],[-.45,1.05],[-.62,.92],[-.8,.98],[-.52,.8],[-.7,.8],[-.4,.92],[-.3,.85],[-.85,.72],[-.7,.65],[-.55,.68],[-.42,.72],[-.8,.48],[-.65,.5],[-.5,.52],[-.35,.58],[-.2,.6],[-.25,.45],
[.12,1.4],[.25,1.38],[.38,1.42],[.5,1.35],[.62,1.3],[.75,1.35],[.88,1.25],[.1,1.25],[.22,1.28],[.35,1.25],[.48,1.22],[.6,1.18],[.72,1.2],[.85,1.1],[.12,1.12],[.25,1.1],[.38,1.12],[.5,1.05],[.62,1.05],[.78,1.02],[.05,1],[.18,.98],[.32,.98],[.45,.95],[.58,.92],[.72,.9],[.9,.9],[1,.92],[.08,.86],[.2,.84],[.35,.85],[.48,.82],[.6,.8],[.75,.78],[.88,.78],[0,.72],[.12,.7],[.25,.72],[.38,.68],[.5,.7],[.62,.66],[.78,.66],[.92,.7],[.05,.58],[.18,.6],[.32,.56],[.45,.58],[.58,.54],[.72,.52],[.85,.5],[1,.52],[1.15,.5],[1.25,.45],[1.35,.5],[1.42,.55],
[-.1,.42],[.05,.45],[.18,.44],[.32,.42],[.45,.44],[.6,.4],[.75,.38],[.9,.38],[1.05,.38],[-.55,.28],[-.42,.3],[-.3,.28],[-.18,.3],[-.05,.28],[.08,.32],[.2,.3],[.32,.3],[.45,.28],[.58,.28],[.72,.26],[.55,.18],[-.5,.18],[-.38,.2],[-.25,.18],[-.12,.2],[0,.17],[.12,.2],[.25,.18],[.38,.19],[-.3,.1],[-.18,.09],[-.06,.11],[.06,.09],[.18,.1],[-.08,.04],[0,.01],[.06,.04]];
const fillH=[[.18,1.32],[.3,1.32],[.42,1.3],[.55,1.26],[.68,1.26],[.16,1.18],[.3,1.18],[.42,1.16],[.55,1.12],[.66,1.12],[.8,1.12],[.18,1.04],[.3,1.04],[.42,1.02],[.55,1],[.68,.98],[.12,.92],[.25,.92],[.38,.9],[.52,.88],[.65,.86],[.8,.85],[.95,.84],[.14,.78],[.28,.78],[.42,.76],[.55,.75],[.68,.72],[.82,.72],[.06,.64],[.18,.65],[.3,.64],[.44,.64],[.56,.62],[.7,.6],[.85,.62],[-.05,.52],[.1,.52],[.24,.5],[.38,.5],[.5,.48],[.65,.46],[.8,.44],[.95,.45],[1.12,.44],[-.18,.36],[-.05,.37],[.1,.38],[.25,.36],[.38,.36],[.52,.34],[.66,.33],[.82,.32],[-.5,.35],[-.35,.36],[-.62,.34],[-.7,.4],[-.45,.24],[-.32,.24],[-.2,.24],[-.08,.24],[.05,.25],[.18,.24],[.32,.23],[.45,.22],[.62,.22],[-.58,.2],[-.42,.14],[-.28,.15],[-.12,.14],[.02,.13],[.15,.14],[.28,.13],[-.18,.05],[-.02,.07],[.12,.06],[-.55,.62],[-.28,.72],[-.55,.92],[-.68,.98],[-.35,1],[-.6,1.22],[-.35,1.35],[-.55,1.4],[.02,1.1],[-.05,.85]];
const cyanH=[[-1.12,3.16],[-2.12,3],[.77,3.03],[-1.38,2.78],[.77,2.81],[-2.13,2.65],[-1.04,2.66],[1.32,2.68],[1.5,2.62],[.81,2.56],[.83,2.53],[.84,2.5],[-2.98,2.34],[-.82,2.46],[-.9,2.33],[-.75,2.42],[-.69,2.38],[-2.29,2.22],[.61,2.35],[.71,2.33],[.76,2.28],[1.16,2.31],[1.23,2.27],[1.77,2.24],[1.96,2.34],[.86,2.17],[.68,2.14],[.98,2.03],[1.25,2.02],[1.74,1.94],[2.05,1.94],[2.02,1.89],[1.68,1.83],[1.34,1.78],[-1.17,1.93],[-1.76,1.8],[-.84,1.8],[-.75,1.76],[-1.23,1.68],[-1.41,1.64],[-1.7,1.56],[-1.13,1.56],[-1.83,1.5],[-1.85,1.39],[-1.85,1.34],[-2.48,1.34],[-1.56,1.33],[-1.26,1.47],[-1.19,1.42],[-1.07,1.42],[-.89,1.41],[-1.26,1.32],[-.79,1.54],[-.75,1.61],[3.06,1.59],[3.34,1.64],[3.85,1.37],[1.78,1.34],[1.44,1.34],[1.4,1.45],[1.13,1.45],[.95,1.37],[.95,1.32],[.62,1.38],[.65,1.45],[.74,1.45],[.86,1.56],[.62,1.54],[.68,1.69],[.98,1.64],[1.22,1.56],[1.43,1.56]];
const magH=[[-.58,3.53,"PE (p−36:2) or PE (o−36:3)"],[1.17,3.06,"SM (d41:2)"],[.94,2.89,"SM (d32:1)"],[-.72,2.69,"PE (p−38:4) or PE (o−38:5)"],[1.19,2.44,"SM (d42:2) B"],[-.6,2.38,"PE (p−40:6) or PE (o−40:7)"],[-.97,2.1,"PC (p−36:4) or PC (o−36:5)"],[-.64,2,"PE (p−36:5) or PE (o−36:6)"],[.63,1.88,"PC (34:4)"],[-2.06,1.84,"PE (p−38:3) or PE (o−38:4)"],[-1.03,1.82,"PC (p−36:3) or PC (o−36:4)"],[-.64,1.71,"PE (p−36:1) or PE (o−36:2)"],[1.01,1.68,"Ceramide (d34:0)"],[-.6,1.54,"PE (p−40:4) or PE (o−40:5)"],[-.76,1.48,"GlcCer (d40:1)"]];

const W=1047,H=1647;
const boxes=[[68.3,461,47,356.7],[532,924,47.3,356.7],[68.3,462,449.7,758.7],[531,923,448.7,757.7],[67.3,460,883,1192],[531,923,884,1193.7],[66.7,459,1291,1600.7],[532,923,1291,1601]];
const xr=[[-4,10],[-4,10],[-3,5],[-3,6],[-4,12],[-4,12],[-4,4],[-3,4]];
const yr=[[0,5],[0,4],[0,4],[0,4],[0,3.5],[0,3],[0,6],[0,4]];
const xd=[2,2,1,1,2,2,1,1], ymin=[.5,.5,.5,.5,.5,.5,1,.5];
const titlePos=[[267,20],[727,21],[264,425],[722,425],[262,856],[725,859],[271,1264],[723,1263]];
const letterPos=[[20,20],[490,17],[23,424],[491,431],[22,853],[490,863],[26,1268],[497,1261]];
const grays=[grayA.concat(fillA),grayB.concat(fillB),grayC.concat(fillC),grayD.concat(fillD),grayE.concat(fillE),grayF.concat(fillF),grayG.concat(fillG),grayH.concat(fillH)],cyans=[cyanA,cyanB,cyanC,cyanD,cyanE,cyanF,cyanG,cyanH],mags=[magA,magB,magC,magD,magE,magF,magG,magH];

const px=x=>x/W, py=y=>1-y/H, AX='#8a8a8a', TXT='#444';
const traces=[],shapes=[],annotations=[],layout={};
function pts(arr,ix,color,size){const s=ix===0?'':String(ix+1);traces.push({type:'scatter',mode:'markers',xaxis:'x'+s,yaxis:'y'+s,x:arr.map(p=>p[0]),y:arr.map(p=>p[1]),cliponaxis:false,hoverinfo:'skip',showlegend:false,marker:{color,size,line:{width:0}}});}
letters.forEach((L,i)=>{
  const s=i===0?'':String(i+1),b=boxes[i];
  pts(grays[i],i,'#808080',6.6);pts(cyans[i],i,'#5cc9dd',6.6);pts(mags[i],i,'#b83d9a',7.5);
  traces.push({type:'scatter',mode:'text',xaxis:'x'+s,yaxis:'y'+s,x:mags[i].map(p=>p[0]),y:mags[i].map(p=>p[1]),text:mags[i].map(p=>p[2]),textposition:'middle right',cliponaxis:false,hoverinfo:'skip',showlegend:false,textfont:{family:'Open Sans',size:10.6,color:'#3c3c3c'}});
  layout['xaxis'+s]={domain:[px(b[0]),px(b[1])],range:xr[i],anchor:'y'+s,dtick:xd[i],tick0:0,showgrid:false,zeroline:false,showline:true,linecolor:AX,linewidth:1.5,mirror:'allticks',ticks:'inside',ticklen:4,tickcolor:AX,ticklabelstandoff:-2,tickfont:{family:'Liberation Sans',size:17,color:TXT},title:{text:xTitle,standoff:3,font:{family:'Liberation Sans',size:17,color:TXT}},automargin:false};
  layout['yaxis'+s]={domain:[py(b[3]),py(b[2])],range:yr[i],anchor:'x'+s,dtick:1,tick0:0,showgrid:false,zeroline:false,showline:true,linecolor:AX,linewidth:1.5,mirror:'allticks',ticks:'inside',ticklen:4,tickcolor:AX,minor:{dtick:ymin[i],ticks:'inside',ticklen:4,tickcolor:AX,showgrid:false},tickfont:{family:'Liberation Sans',size:17,color:TXT},title:{text:yTitle,standoff:14,font:{family:'Liberation Sans',size:17,color:TXT}},automargin:false};
  const dot={color:'#bdbdbd',width:1,dash:'1px,4px'};
  [-.585,.585].forEach(v=>shapes.push({type:'line',layer:'below',xref:'x'+s,yref:'y'+s+' domain',x0:v,x1:v,y0:0,y1:1,line:dot}));
  shapes.push({type:'line',layer:'below',xref:'x'+s+' domain',yref:'y'+s,x0:.02,x1:.985,y0:1.3,y1:1.3,line:dot});
  annotations.push({xref:'paper',yref:'paper',x:px(titlePos[i][0]),y:py(titlePos[i][1]),text:'<b>'+titles[i]+'</b>',showarrow:false,xanchor:'center',yanchor:'middle',font:{family:'Liberation Sans',size:24.5,color:'#111'}});
  annotations.push({xref:'paper',yref:'paper',x:px(letterPos[i][0]),y:py(letterPos[i][1]),text:'<b>'+L+'</b>',showarrow:false,xanchor:'center',yanchor:'middle',font:{family:'Liberation Sans',size:27,color:'#111'}});
});
const P={xref:'paper',yref:'paper'};
shapes.push({...P,type:'rect',layer:'below',x0:px(936),x1:px(1047),y0:py(46),y1:py(1600),fillcolor:'#c4c4c4',line:{width:0}});
shapes.push({...P,type:'rect',layer:'below',x0:px(937),x1:px(1047),y0:py(46),y1:py(1596),fillcolor:'#e0e0e0',line:{width:0}});
shapes.push({...P,type:'circle',layer:'below',x0:px(957),x1:px(993),y0:py(1358),y1:py(1322),fillcolor:'#bdbdbd',line:{width:0}});
shapes.push({...P,type:'circle',layer:'below',x0:px(999),x1:px(1035),y0:py(1358),y1:py(1322),fillcolor:'#bdbdbd',line:{width:0}});
shapes.push({...P,type:'circle',layer:'below',x0:px(957),x1:px(993),y0:py(1355),y1:py(1319),fillcolor:'#7fd0d4',line:{width:0}});
shapes.push({...P,type:'circle',layer:'below',x0:px(999),x1:px(1035),y0:py(1355),y1:py(1319),fillcolor:'#c2479b',line:{width:0}});
shapes.push({...P,type:'rect',layer:'above',x0:px(505),x1:px(530),y0:py(881),y1:py(873),fillcolor:'#fff',line:{width:0}});
annotations.push({...P,x:px(978),y:py(1294),text:note1,textangle:-90,showarrow:false,xanchor:'center',yanchor:'bottom',font:{family:'Liberation Sans',size:29.5,color:'#222'}});
annotations.push({...P,x:px(1013),y:py(1294),text:note2,textangle:-90,showarrow:false,xanchor:'center',yanchor:'bottom',font:{family:'Liberation Sans',size:29.5,color:'#222'}});
Object.assign(layout,{width:W,height:H,margin:{l:0,r:0,t:0,b:0},paper_bgcolor:'#fff',plot_bgcolor:'rgba(0,0,0,0)',showlegend:false,shapes,annotations});
Plotly.newPlot('chart',traces,layout,{staticPlot:true,displayModeBar:false});
</script></body></html>
